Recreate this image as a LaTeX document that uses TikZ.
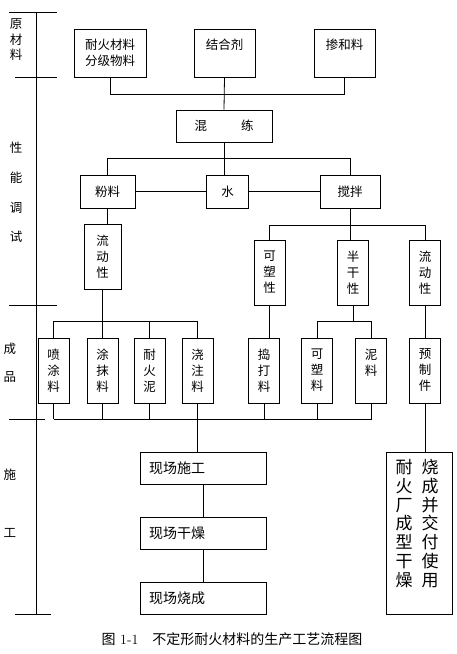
\documentclass[tikz,border=0pt]{standalone}
\usepackage{fontspec}
\newfontfamily\cjk{Noto Sans CJK SC}
\usetikzlibrary{positioning}

\begin{document}
\begin{tikzpicture}[x=1pt, y=-1pt, line width=0.8pt,
    box/.style={draw, inner sep=0pt, align=center, font=\cjk\fontsize{12.5}{16}\selectfont},
    tall/.style={box, minimum width=31, minimum height=65},
    site/.style={box, minimum width=126, minimum height=32, align=left, text width=108, font=\cjk\fontsize{14}{16}\selectfont},
    side/.style={inner sep=0pt, align=center, font=\cjk\fontsize{12.5}{15.5}\selectfont},
    vcol/.style={inner sep=0pt, align=center, font=\cjk\fontsize{17}{18.8}\selectfont}]

    \useasboundingbox (0,0) rectangle (456,654);

    % Stage axis
    \draw (36,12) -- (36,614);
    \foreach \a/\b/\y in {9/57/12, 15/57/77, 9/57/305, 9/45/419, 15/51/614}
        \draw (\a,\y) -- (\b,\y);

    % Stage names
    \node[side] (raw) at (16,40) {原\\材\\料};
    \foreach \t/\y in {性/148, 能/178, 调/208, 试/237}
        \node[side] (tune\y) at (16,\y) {\t};
    \node[side] (prod1) at (10,349) {成};
    \node[side] (prod2) at (10,377) {品};
    \node[side] (work1) at (10,475) {施};
    \node[side] (work2) at (10,533) {工};

    % Raw materials
    \node[box, minimum width=72, minimum height=48] (refr) at (110,53) {耐火材料\\分级物料};
    \node[box, minimum width=61, minimum height=48] (bind) at (224.5,53) {结合剂\\\phantom{剂}};
    \node[box, minimum width=61, minimum height=48] (admix) at (344.5,53) {掺和料\\\phantom{料}};
    \node[box, minimum width=96, minimum height=32] (mix) at (224,126) {混\hspace{34pt}练};
    \draw (refr.south) -- ++(0,17) -| (admix.south);
    \draw (bind.south) -- (mix.north);

    % Conditioning
    \node[box, minimum width=55, minimum height=33] (powder) at (107.5,191.5) {粉料};
    \node[box, minimum width=42, minimum height=33] (water) at (227.5,191.5) {水};
    \node[box, minimum width=60, minimum height=33] (stir) at (350,191.5) {搅拌};
    \draw (mix.south) -- (mix.south |- water.north);
    \draw (powder.north) -- ++(0,-16.5) -| (stir.north);
    \draw (powder) -- (water) -- (stir);

    \node[tall, minimum width=37] (flowL) at (102.5,256.5) {流\\动\\性};
    \draw (powder.south) -- (powder.south |- flowL.north);

    % Products, flowing type
    \node[tall] (spray) at (53.5,370.5) {喷\\涂\\料};
    \node[tall] (smear) at (102.5,370.5) {涂\\抹\\料};
    \node[tall] (clay) at (149.5,370.5) {耐\\火\\泥};
    \node[tall] (cast) at (197.5,370.5) {浇\\注\\料};
    \draw (flowL.south) -- ++(0,32) coordinate (busA);
    \draw (spray.north) |- (busA) -| (cast.north);
    \draw (busA) -- (smear.north);
    \draw (clay.north) -- (clay.north |- busA);

    % Products, stirred type
    \node[tall] (plast) at (269.5,272.5) {可\\塑\\性};
    \node[tall] (semi) at (353,272.5) {半\\干\\性};
    \node[tall] (flowR) at (425,272.5) {流\\动\\性};
    \draw (stir.south) -- ++(0,16.5) coordinate (busB);
    \draw (plast.north) |- (busB) -| (flowR.north);
    \draw (busB) -- (busB |- semi.north);

    \node[tall] (ram) at (264,370.5) {捣\\打\\料};
    \node[tall] (plmat) at (317,370.5) {可\\塑\\料};
    \node[tall] (mudm) at (371,370.5) {泥\\料\\\phantom{料}};
    \node[tall] (pre) at (425,370.5) {预\\制\\件};
    \draw (plast.south) -- (plast.south |- ram.north);
    \draw (semi.south) -- ++(0,16) coordinate (busC);
    \draw (plmat.north) |- (busC) -| (mudm.north);
    \draw (flowR) -- (pre);

    % Site work
    \node[site] (site1) at (203,468) {现场施工};
    \node[site] (site2) at (203,533) {现场干燥};
    \node[site] (site3) at (203,598) {现场烧成};
    \draw (spray.south) -- ++(0,16) coordinate (busD);
    \draw (busD) -| (mudm.south);
    \foreach \n in {smear, clay, ram, plmat}
        \draw (\n.south) -- (\n.south |- busD);
    \draw (cast.south) -- (cast.south |- site1.north);
    \draw (site1) -- (site2) -- (site3);

    % Factory route
    \node[box, minimum width=66, minimum height=162] (fact) at (419,533) {};
    \node[vcol] (fact1) at (404,523.5) {耐\\火\\厂\\成\\型\\干\\燥};
    \node[vcol] (fact2) at (430,523.5) {烧\\成\\并\\交\\付\\使\\用};
    \draw (pre) -- (pre |- fact.north);

    % Caption
    \node[inner sep=0pt, font=\fontsize{14}{16}\selectfont] (cap) at (232,639)
        {{\cjk 图} 1-1\quad{\cjk 不定形耐火材料的生产工艺流程图}};

\end{tikzpicture}
\end{document}
